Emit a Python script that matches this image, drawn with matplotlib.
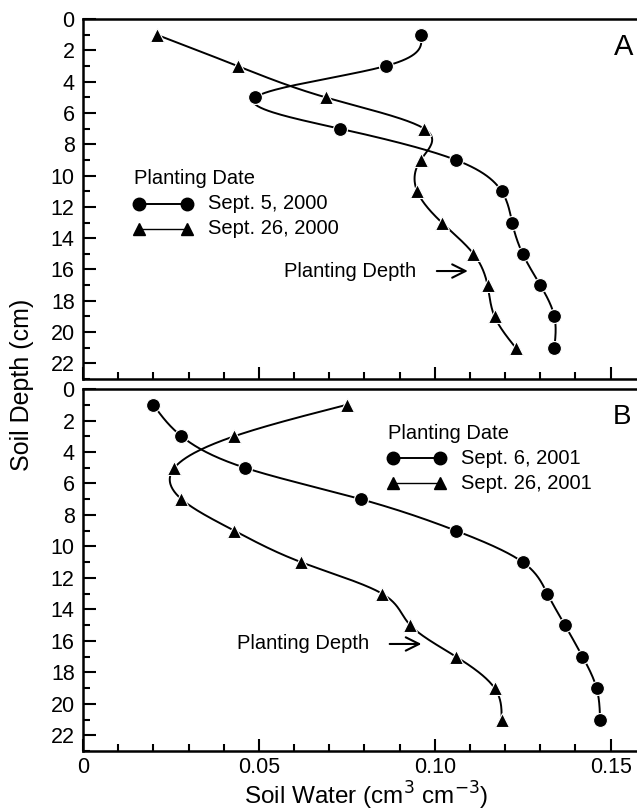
import matplotlib
matplotlib.use('Agg')
import matplotlib.pyplot as plt
import numpy as np
from matplotlib.ticker import MultipleLocator

plt.rcParams['font.family'] = ['Liberation Sans', 'DejaVu Sans']

# --------------------------
# DATA
# --------------------------
depth = [1, 3, 5, 7, 9, 11, 13, 15, 17, 19, 21]

a_sep5_2000 = [0.096, 0.086, 0.049, 0.073, 0.106, 0.119, 0.122, 0.125, 0.130, 0.134, 0.134]
a_sep26_2000 = [0.021, 0.044, 0.069, 0.097, 0.096, 0.095, 0.102, 0.111, 0.115, 0.117, 0.123]

b_sep6_2001 = [0.020, 0.028, 0.046, 0.079, 0.106, 0.125, 0.132, 0.137, 0.142, 0.146, 0.147]
b_sep26_2001 = [0.075, 0.043, 0.026, 0.028, 0.043, 0.062, 0.085, 0.093, 0.106, 0.117, 0.119]

labels_a = ['Sept. 5, 2000', 'Sept. 26, 2000']
labels_b = ['Sept. 6, 2001', 'Sept. 26, 2001']


def natural_spline(t, v, n=400):
    # natural cubic spline v(t) for smooth connecting curves
    t = np.asarray(t, float)
    v = np.asarray(v, float)
    k = len(t)
    h = np.diff(t)
    A = np.zeros((k, k))
    r = np.zeros(k)
    A[0, 0] = A[-1, -1] = 1
    for i in range(1, k - 1):
        A[i, i - 1] = h[i - 1]
        A[i, i] = 2 * (h[i - 1] + h[i])
        A[i, i + 1] = h[i]
        r[i] = 6 * ((v[i + 1] - v[i]) / h[i] - (v[i] - v[i - 1]) / h[i - 1])
    M = np.linalg.solve(A, r)
    tt = np.linspace(t[0], t[-1], n)
    idx = np.clip(np.searchsorted(t, tt) - 1, 0, k - 2)
    t0, t1 = t[idx], t[idx + 1]
    hh = t1 - t0
    a = (t1 - tt) / hh
    b = (tt - t0) / hh
    vv = (a * v[idx] + b * v[idx + 1]
          + ((a ** 3 - a) * M[idx] + (b ** 3 - b) * M[idx + 1]) * hh ** 2 / 6)
    return tt, vv


def style_axis(ax, show_xlabels):
    ax.set_xlim(0, 0.1575)
    ax.set_ylim(23, 0)
    ax.xaxis.set_major_locator(MultipleLocator(0.05))
    ax.xaxis.set_minor_locator(MultipleLocator(0.01))
    ax.yaxis.set_major_locator(MultipleLocator(2))
    ax.yaxis.set_minor_locator(MultipleLocator(1))
    ax.tick_params(which='both', direction='in', top=False, right=False,
                   width=1.5, labelsize=15.5, pad=6)
    ax.tick_params(axis='x', pad=4)
    ax.tick_params(which='major', length=9)
    ax.tick_params(which='minor', length=5)
    ax.spines['right'].set_visible(False)
    for s in ['left', 'top', 'bottom']:
        ax.spines[s].set_linewidth(1.8)
    if show_xlabels:
        ax.set_xticks([0, 0.05, 0.10, 0.15])
        ax.set_xticklabels(['0', '0.05', '0.10', '0.15'])
    else:
        ax.tick_params(axis='x', labelbottom=False)


def draw_series(ax, xs, marker, ms):
    tt, vv = natural_spline(depth, xs)
    ax.plot(vv, tt, color='black', lw=1.4, zorder=2)
    ax.plot(xs, depth, linestyle='none', marker=marker, ms=ms, color='black',
            mec='white', mew=0.8, zorder=3)


def draw_legend(ax, x0, y0, labels):
    ax.text(x0, y0, 'Planting Date', fontsize=14.5, va='center', ha='left')
    for i, (lab, mk) in enumerate(zip(labels, ['o', '^'])):
        yy = y0 + 1.6 * (i + 1)
        lw = 1.4 if mk == 'o' else 1.0
        ax.plot([x0 + 0.0015, x0 + 0.0150], [yy, yy], color='black', lw=lw,
                marker=mk, ms=9 if mk == 'o' else 8)
        ax.text(x0 + 0.0210, yy, lab, fontsize=14.5, va='center', ha='left')


def draw_planting_depth(ax, x_text, x0, x1, yy):
    ax.text(x_text, yy, 'Planting Depth', fontsize=14.5, va='center', ha='left')
    ax.annotate('', xy=(x1, yy), xytext=(x0, yy),
                arrowprops=dict(arrowstyle='->', lw=1.5, color='black',
                                mutation_scale=24))


fig = plt.figure(figsize=(6.37, 8.11), dpi=100)
ax1 = fig.add_axes([0.1303, 0.5327, 0.8697, 0.4437])
ax2 = fig.add_axes([0.1303, 0.0740, 0.8697, 0.4463])

# Panel A
draw_series(ax1, a_sep5_2000, 'o', 10)
draw_series(ax1, a_sep26_2000, '^', 10)
style_axis(ax1, False)
draw_legend(ax1, 0.0145, 10.2, labels_a)
draw_planting_depth(ax1, 0.0571, 0.0998, 0.1102, 16.1)
ax1.text(0.1565, 1.75, 'A', fontsize=21, ha='right', va='center')

# Panel B
draw_series(ax2, b_sep6_2001, 'o', 10)
draw_series(ax2, b_sep26_2001, '^', 10)
style_axis(ax2, True)
draw_legend(ax2, 0.0866, 2.8, labels_b)
draw_planting_depth(ax2, 0.0437, 0.0864, 0.0970, 16.2)
ax2.text(0.1560, 1.75, 'B', fontsize=20, ha='right', va='center')

fig.text(0.575, 0.008, 'Soil Water (cm$^{3}$ cm$^{\\mathsf{-3}}$)', fontsize=17.5,
         ha='center', va='baseline')
fig.text(0.035, 0.525, 'Soil Depth (cm)', rotation=90, fontsize=18,
         ha='center', va='center')

plt.savefig('out.png', dpi=100)
plt.close()
